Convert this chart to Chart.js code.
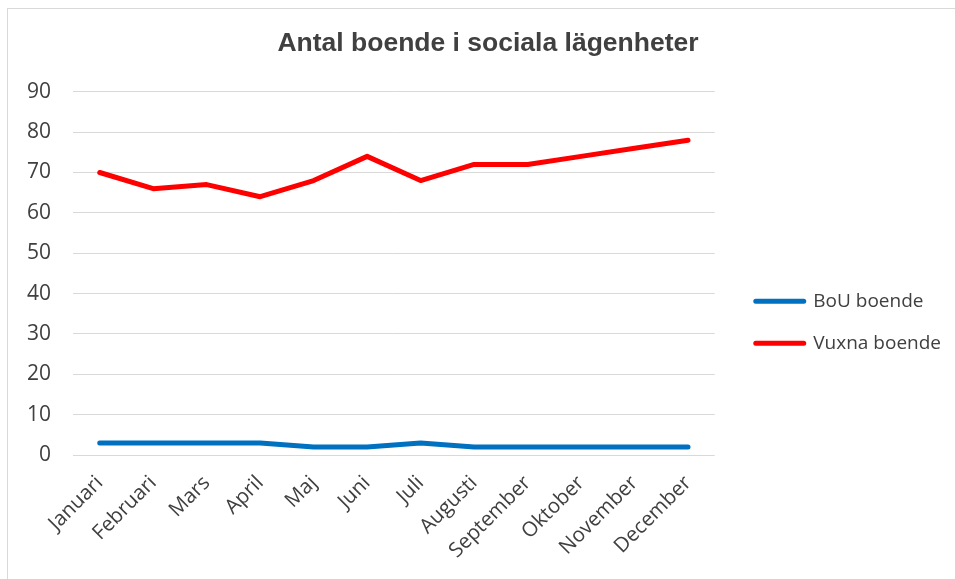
<!DOCTYPE html>
<html>
<head>
<meta charset="utf-8">
<script src="https://cdn.jsdelivr.net/npm/chart.js@4/dist/chart.umd.min.js"></script>
<style>
  body { margin: 0; background: #fff; }
  #wrap {
    position: absolute; left: 7px; top: 8px;
    width: 948px; height: 570px;
    border-left: 1px solid #d9d9d9; border-top: 1px solid #d9d9d9;
  }
</style>
</head>
<body>
<div id="wrap"><canvas id="boende-chart"></canvas></div>
<script>
// data
const months = ['Januari', 'Februari', 'Mars', 'April', 'Maj', 'Juni', 'Juli',
  'Augusti', 'September', 'Oktober', 'November', 'December'];
const bouBoende = [3, 3, 3, 3, 2, 2, 3, 2, 2, 2, 2, 2];
const vuxnaBoende = [70, 66, 67, 64, 68, 74, 68, 72, 72, 74, 76, 78];
const yTicks = [0, 10, 20, 30, 40, 50, 60, 70, 80, 90];

// title sits a little right of the canvas centre in the original
const titleNudge = {
  id: 'titleNudge',
  afterLayout: function (chart) {
    if (chart.titleBlock) chart.titleBlock.left += 17;
  },
};

//--------------
//- LINE CHART -
//--------------
function drawChart() {
  new Chart(document.getElementById('boende-chart'), {
    type: 'line',
    data: {
      labels: months,
      datasets: [
        {
          label: 'BoU boende',
          data: bouBoende,
          borderColor: '#0070c0',
          backgroundColor: '#0070c0',
          borderWidth: 5,
          borderCapStyle: 'round',
          borderJoinStyle: 'round',
          pointRadius: 0,
          tension: 0,
        },
        {
          label: 'Vuxna boende',
          data: vuxnaBoende,
          borderColor: '#ff0000',
          backgroundColor: '#ff0000',
          borderWidth: 5,
          borderCapStyle: 'round',
          borderJoinStyle: 'round',
          pointRadius: 0,
          tension: 0,
        },
      ],
    },
    options: {
      responsive: true,
      maintainAspectRatio: false,
      animation: false,
      layout: { padding: { right: 5 } },
      plugins: {
        title: {
          display: true,
          text: 'Antal boende i sociala lägenheter',
          color: '#404040',
          font: { family: 'Liberation Sans', size: 26.5, weight: 'bold' },
          padding: { top: 19, bottom: 32 },
        },
        legend: {
          position: 'right',
          maxWidth: 260,
          // empty title only pushes the entries down a bit
          title: { display: true, text: '', padding: { top: 42, bottom: 0 } },
          labels: {
            boxWidth: 48,
            boxHeight: 0,
            padding: 23,
            color: '#404040',
            font: { family: 'Open Sans', size: 19 },
          },
        },
        tooltip: { enabled: false },
      },
      scales: {
        x: {
          offset: true,
          grid: { display: false },
          border: { display: false },
          ticks: {
            minRotation: 45,
            maxRotation: 45,
            padding: 8,
            color: '#404040',
            font: { family: 'Open Sans', size: 20.5 },
          },
          afterFit: function (scale) { scale.height = 124; },
        },
        y: {
          min: 0,
          max: 90,
          afterBuildTicks: function (scale) {
            scale.ticks = yTicks.map(function (v) { return { value: v }; });
          },
          grid: { color: '#d9d9d9', lineWidth: 1, drawTicks: false },
          border: { display: false },
          ticks: {
            padding: 22,
            color: '#404040',
            font: { family: 'Open Sans', size: 21 },
          },
          afterFit: function (scale) { scale.width = 65; },
        },
        // empty axis, just keeps a gap before the legend
        gap: {
          position: 'right',
          display: true,
          grid: { display: false },
          border: { display: false },
          ticks: { display: false },
          afterFit: function (scale) { scale.width = 18; },
        },
      },
    },
    plugins: [titleNudge],
  });
}

// wait for the local fonts so the legend is measured right
Promise.all([
  document.fonts.load('19px "Open Sans"'),
  document.fonts.load('bold 26px "Liberation Sans"'),
]).then(drawChart, drawChart);
</script>
</body>
</html>
